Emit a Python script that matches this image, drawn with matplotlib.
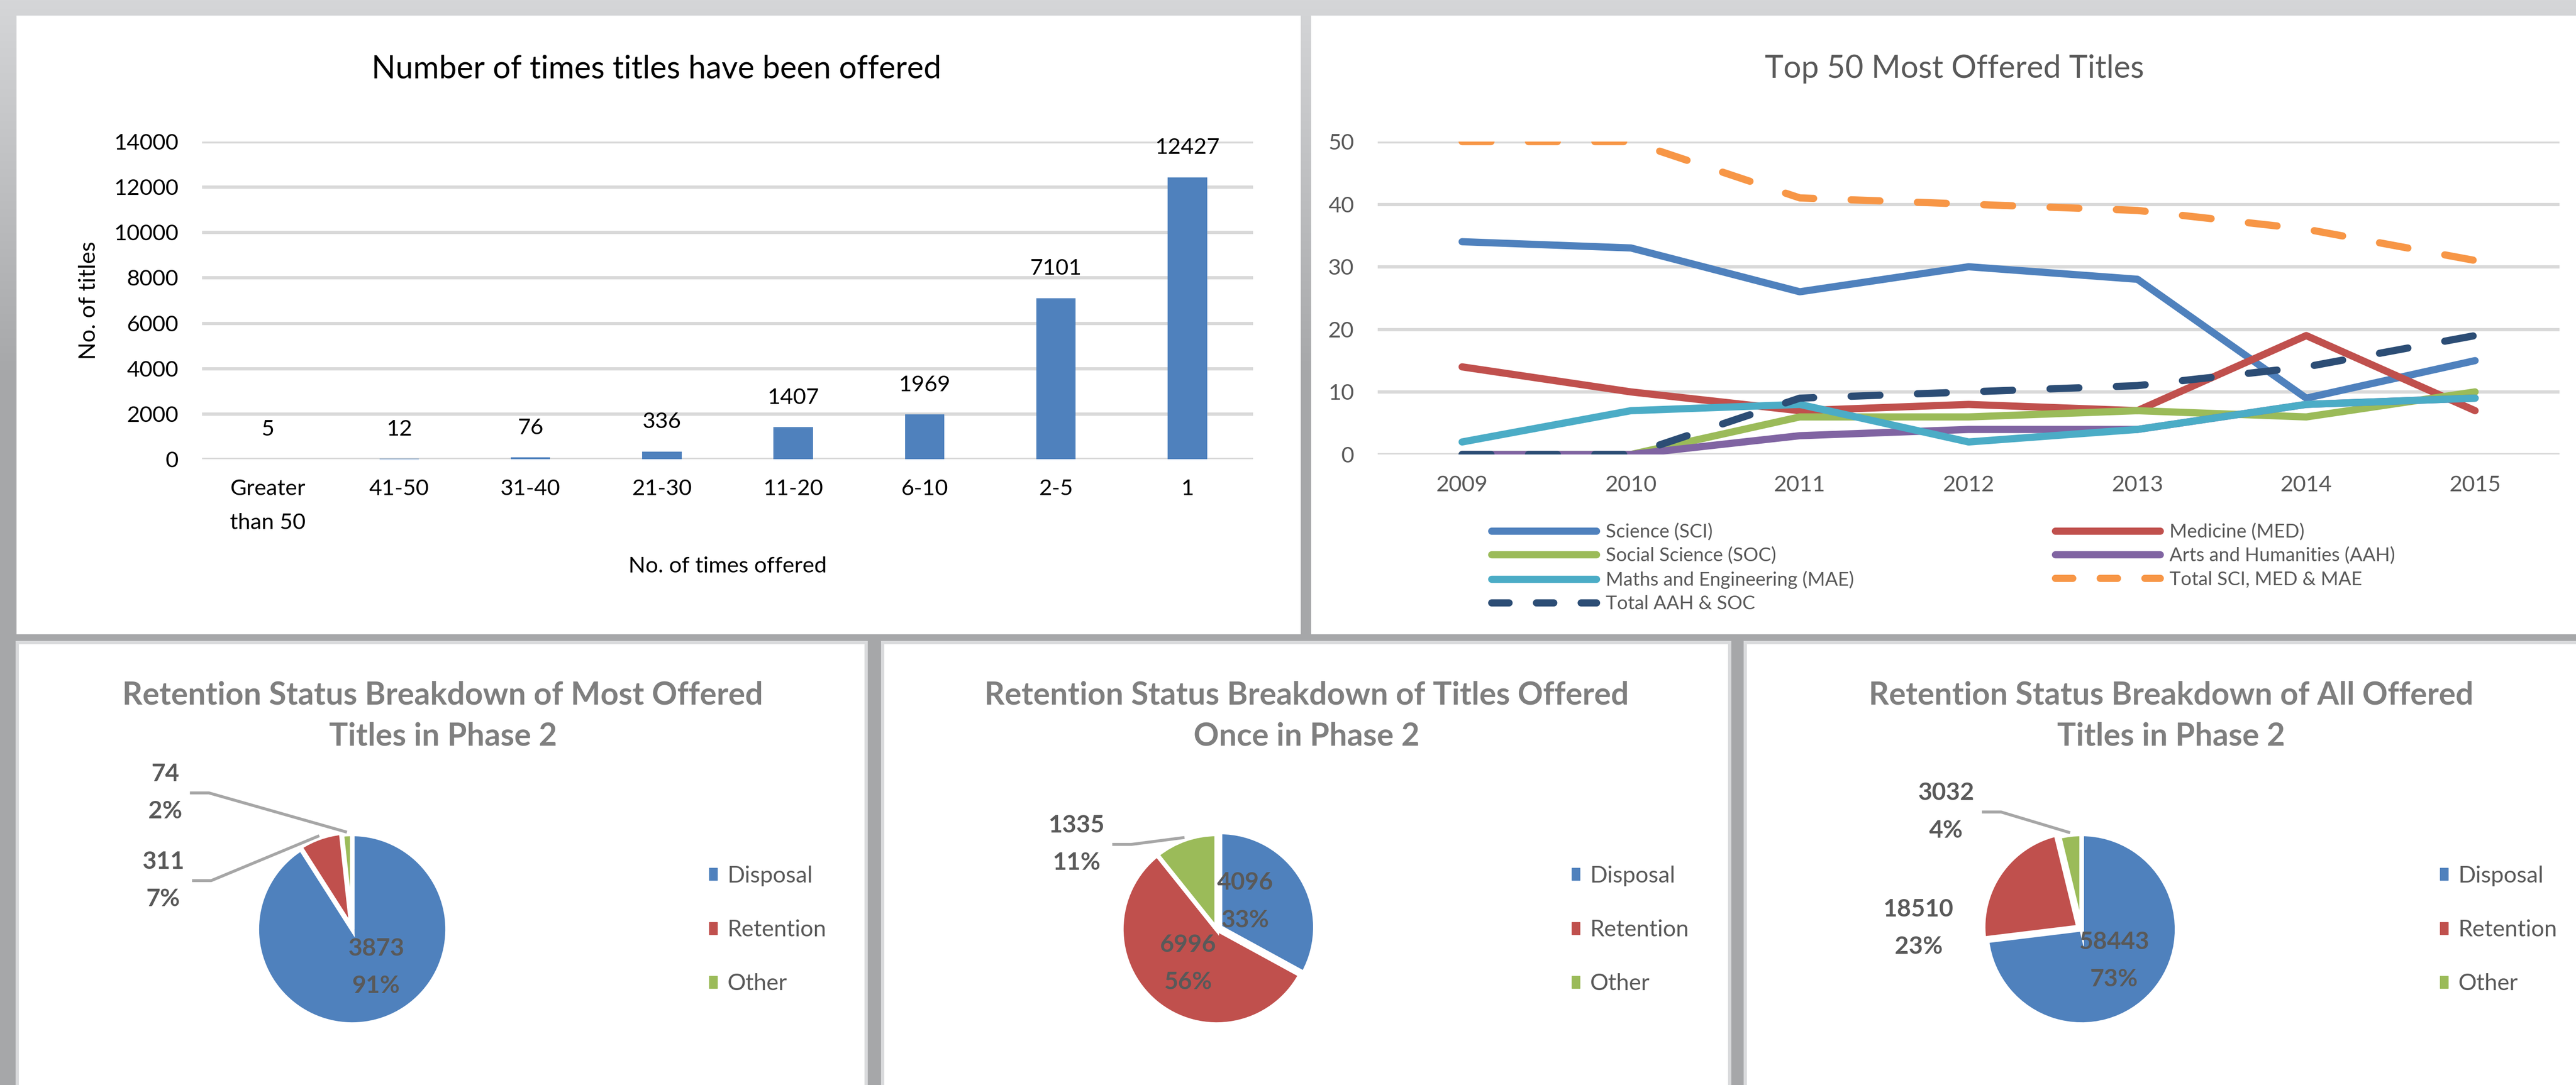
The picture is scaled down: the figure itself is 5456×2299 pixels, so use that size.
import numpy as np
import matplotlib.pyplot as plt
from matplotlib.patches import Rectangle, Patch
from matplotlib.lines import Line2D
from matplotlib.colors import to_rgb

plt.rcParams['font.family'] = ['Lato', 'DejaVu Sans']

# ---- data: number of times titles offered
offer_bins = ['Greater\nthan 50', '41-50', '31-40', '21-30', '11-20', '6-10', '2-5', '1']
title_counts = [5, 12, 76, 336, 1407, 1969, 7101, 12427]

# ---- data: top 50 most offered titles by year
years = ['2009', '2010', '2011', '2012', '2013', '2014', '2015']
sci = [34, 33, 26, 30, 28, 9, 15]
med = [14, 10, 7, 8, 7, 19, 7]
soc = [0, 0, 6, 6, 7, 6, 10]
aah = [0, 0, 3, 4, 4, 8, 9]
mae = [2, 7, 8, 2, 4, 8, 9]
total_sci_med_mae = [50, 50, 41, 40, 39, 36, 31]
total_aah_soc = [0, 0, 9, 10, 11, 14, 19]

# ---- data: retention status
status = ['Disposal', 'Retention', 'Other']
most_offered = [3873, 311, 74]
offered_once = [4096, 6996, 1335]
all_offered = [58443, 18510, 3032]

W, H = 5456, 2299
fig = plt.figure(figsize=(W / 100, H / 100), dpi=100)


def box(l, t, r, b):
    # pixel box (top-left origin) -> figure fraction rect
    return [l / W, 1 - b / H, (r - l) / W, (b - t) / H]


def fx(x):
    return x / W


def fy(y):
    return 1 - y / H


# background gradient + panels
bg = fig.add_axes([0, 0, 1, 1], zorder=-10)
t = np.clip(np.arange(H) / 800.0, 0, 1)[:, None, None]
top_c, bot_c = np.array(to_rgb('#d5d6d8')), np.array(to_rgb('#a6a7a9'))
bg.imshow(top_c * (1 - t) + bot_c * t, extent=[0, 1, 0, 1], aspect='auto', origin='upper')
bg.set_xlim(0, 1)
bg.set_ylim(0, 1)
bg.axis('off')

for (l, tp, r, b), ec in [((35, 33, 2755, 1344), 'none'), ((2777, 33, 5470, 1344), 'none'),
                          ((36, 1361, 1834, 2310), '#d9dadc'), ((1869, 1361, 3663, 2310), '#d9dadc'),
                          ((3696, 1361, 5470, 2310), '#d9dadc')]:
    fig.add_artist(Rectangle((fx(l), fy(b)), (r - l) / W, (b - tp) / H, transform=fig.transFigure,
                             facecolor='white', edgecolor=ec, lw=5, zorder=-5))

# ---------------- bar chart
ax1 = fig.add_axes(box(428, 300, 2654, 973))
ax1.set_facecolor('none')
x = np.arange(len(offer_bins))
bars = ax1.bar(x, title_counts, width=0.3, color='#4f81bd', zorder=3)
ax1.bar_label(bars, padding=30, fontsize=34, color='#000000')
ax1.set_xlim(-0.5, len(offer_bins) - 0.5)
ax1.set_ylim(0, 14000)
ax1.set_yticks(np.arange(0, 14001, 2000))
ax1.set_xticks(x)
ax1.set_xticklabels(offer_bins)
for lbl in ax1.get_xticklabels():
    lbl.set_linespacing(1.9)
ax1.grid(axis='y', color='#d9d9d9', lw=5)
ax1.set_axisbelow(True)
for s in ax1.spines.values():
    s.set_visible(False)
ax1.tick_params(axis='both', length=0, labelsize=34, colors='#000000')
ax1.tick_params(axis='y', pad=36)
ax1.tick_params(axis='x', pad=30)
ax1.set_xlabel('No. of times offered', fontsize=34, labelpad=36)
ax1.set_ylabel('No. of titles', fontsize=35, labelpad=22)
fig.text(fx(1390), fy(146), 'Number of times titles have been offered', ha='center', va='center',
         fontsize=48, color='#000000')

# ---------------- line chart
ax2 = fig.add_axes(box(2918, 300, 5421, 963))
ax2.set_facecolor('none')
xi = np.arange(len(years))
series = [
    ('Science (SCI)', sci, '#4f81bd', None),
    ('Medicine (MED)', med, '#c0504d', None),
    ('Social Science (SOC)', soc, '#9bbb59', None),
    ('Arts and Humanities (AAH)', aah, '#8064a2', None),
    ('Maths and Engineering (MAE)', mae, '#4bacc6', None),
    ('Total SCI, MED & MAE', total_sci_med_mae, '#f79646', (0, (4.0, 5.2))),
    ('Total AAH & SOC', total_aah_soc, '#2c4d75', (0, (4.0, 5.2))),
]
handles = {}
for name, vals, col, ls in series:
    if ls is None:
        ax2.plot(xi, vals, color=col, lw=11, solid_capstyle='round', solid_joinstyle='round', zorder=3)
        handles[name] = Line2D([], [], color=col, lw=11, solid_capstyle='round')
    else:
        ax2.plot(xi, vals, color=col, lw=11, linestyle=ls, dash_capstyle='round', zorder=3)
        handles[name] = Line2D([], [], color=col, lw=11, linestyle=(0, (2.4, 3.8)), dash_capstyle='round')
ax2.set_xlim(-0.5, len(years) - 0.5)
ax2.set_ylim(0, 50)
ax2.set_yticks(np.arange(0, 51, 10))
ax2.set_xticks(xi)
ax2.set_xticklabels(years)
ax2.grid(axis='y', color='#d9d9d9', lw=5)
ax2.set_axisbelow(True)
for s in ax2.spines.values():
    s.set_visible(False)
ax2.tick_params(axis='both', length=0, labelsize=34, colors='#595959')
ax2.tick_params(axis='y', pad=36)
ax2.tick_params(axis='x', pad=32)
fig.text(fx(4140), fy(146), 'Top 50 Most Offered Titles', ha='center', va='center',
         fontsize=48, color='#595959')
order = ['Science (SCI)', 'Social Science (SOC)', 'Maths and Engineering (MAE)', 'Total AAH & SOC',
         'Medicine (MED)', 'Arts and Humanities (AAH)', 'Total SCI, MED & MAE']
ax2.legend([handles[n] for n in order], order, ncol=2, loc='upper left',
           bbox_to_anchor=(fx(3159), fy(1108)), bbox_transform=fig.transFigure, frameon=False,
           fontsize=29, labelcolor='#595959', handlelength=5.5, handletextpad=0.5,
           columnspacing=10.6, labelspacing=0.32, borderpad=0, borderaxespad=0)

# ---------------- pies
pie_colors = ['#4f81bd', '#c0504d', '#9bbb59']
pie_specs = [
    # values, title, centre px, title centre x, legend x, explode, label positions (radius units), leader flags
    (most_offered, 'Retention Status Breakdown of Most Offered\nTitles in Phase 2', (746, 1969), 938, 1502,
     [0, 0.02, 0], [(0.25, -0.40), (-1.98, 0.51), (-1.96, 1.43)], [False, True, True]),
    (offered_once, 'Retention Status Breakdown of Titles Offered\nOnce in Phase 2', (2577, 1969), 2767, 3329,
     [0.04, 0, 0], [(0.30, 0.29), (-0.30, -0.36), (-1.47, 0.89)], [False, False, True]),
    (all_offered, 'Retention Status Breakdown of All Offered\nTitles in Phase 2', (4409, 1969), 4598, 5168,
     [0, 0.04, 0], [(0.34, -0.33), (-1.71, 0.01), (-1.42, 1.23)], [False, False, True]),
]
R = 202
S = 2.6
renderer = fig.canvas.get_renderer()
for vals, title, (cx, cy), tx, lx, expl, lpos, leaders in pie_specs:
    ax = fig.add_axes(box(cx - S * R, cy - S * R, cx + S * R, cy + S * R))
    ax.set_facecolor('none')
    wedges, _ = ax.pie(vals, colors=pie_colors, startangle=90, counterclock=False, radius=1,
                       explode=expl, wedgeprops=dict(edgecolor='white', linewidth=7))
    ax.set_xlim(-S, S)
    ax.set_ylim(-S, S)
    ax.set_aspect('equal')
    total = sum(vals)
    for w, v, (px, py), lead in zip(wedges, vals, lpos, leaders):
        txt = ax.text(px, py, f'{v}\n{round(v / total * 100)}%', ha='center', va='center',
                      fontsize=37, fontweight='bold', color='#595959', linespacing=1.85)
        if lead:
            bb = txt.get_window_extent(renderer).transformed(ax.transData.inverted())
            th = np.deg2rad((w.theta1 + w.theta2) / 2)
            ex = w.center[0] + 1.02 * np.cos(th)
            ey = w.center[1] + 1.02 * np.sin(th)
            x0 = bb.x1 + 0.08
            ax.plot([x0, x0 + 0.2, ex], [py, py, ey], color='#a6a6a6', lw=4.5, solid_capstyle='butt',
                    zorder=1)
    fig.text(fx(tx), fy(1517), title, ha='center', va='center', fontsize=48, fontweight='bold',
             color='#7f7f7f', linespacing=1.5)
    ax.legend([Patch(color=c) for c in pie_colors], status, loc='center left',
              bbox_to_anchor=(fx(lx), fy(1970)), bbox_transform=fig.transFigure, frameon=False,
              fontsize=35, labelcolor='#595959', handlelength=0.34, handleheight=0.45,
              handletextpad=0.45, labelspacing=1.45, borderpad=0, borderaxespad=0)

fig.savefig('out.png', dpi=100)
